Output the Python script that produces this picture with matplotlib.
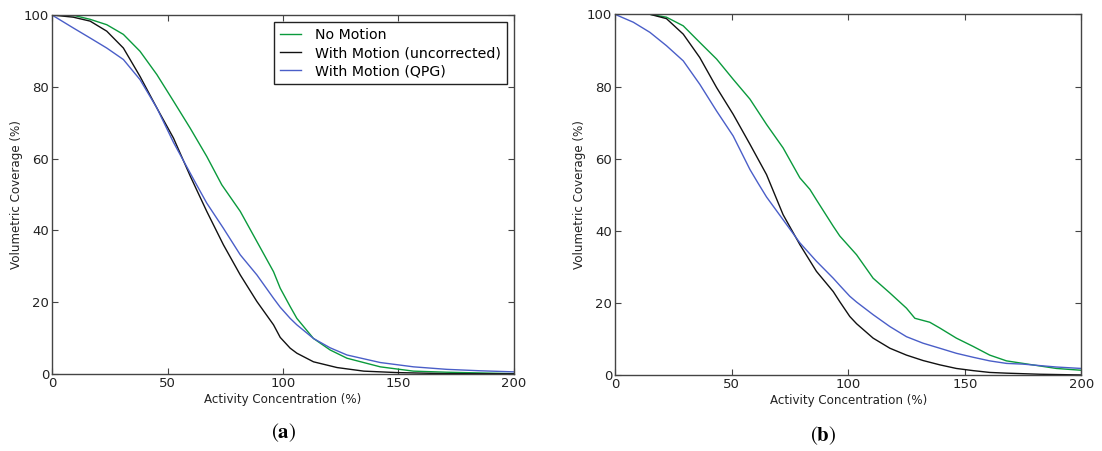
import matplotlib
matplotlib.use("Agg")
import matplotlib.pyplot as plt

# (a)
a_green_x = [0, 10, 16.5, 23.7, 30.9, 38.1, 45.4, 52.6, 59.8, 67, 73.5, 81.5, 88.7, 95.9, 98.8,
             103.1, 106, 113.2, 120.4, 127.7, 142.1, 156.5, 170.9, 200]
a_green_y = [100, 99.8, 98.8, 97.3, 94.6, 89.9, 83.4, 76, 68.5, 60.6, 52.7, 45.3, 36.9, 28.5, 23.9,
             18.8, 15.5, 9.9, 6.7, 4.4, 2.0, 0.8, 0.5, 0.1]

a_black_x = [0, 9.2, 16.5, 23.7, 30.9, 38.1, 45.4, 52.6, 59.8, 62.7, 67, 74.2, 81.5, 88.7, 95.9,
             98.8, 103.1, 106, 113.2, 123.4, 135, 149.4, 170.9, 200]
a_black_y = [100, 99.4, 98.3, 95.5, 90.8, 82.9, 74.1, 65.7, 55.2, 51.2, 45.3, 36, 27.6, 20.2, 13.7,
             10.2, 7.2, 5.8, 3.4, 1.8, 0.8, 0.4, 0.1, 0.05]

a_blue_x = [0, 9.2, 16.5, 23.7, 30.9, 38.1, 45.4, 52.6, 59.8, 62, 67, 74.2, 81.5, 88.7, 95.9,
            98.8, 103.1, 106, 113.2, 120.4, 127.7, 142.1, 156.5, 170.9, 185.4, 200]
a_blue_y = [100, 96.4, 93.6, 90.8, 87.6, 82, 74.1, 64.5, 56.0, 53.4, 47.6, 40.6, 33.2, 27.6, 21.1,
            18.6, 15.5, 13.7, 9.9, 7.3, 5.3, 3.2, 2.0, 1.3, 0.9, 0.6]

# (b)
b_green_x = [0, 15, 22.1, 29.3, 36.4, 43.6, 50.7, 57.9, 65, 72.1, 79.3, 83.6, 86.4, 93.6, 96.4,
             103.6, 110.7, 117.9, 125, 128.6, 135, 139.3, 146.4, 153.6, 160.7, 167.9, 175,
             182.1, 189.3, 200]
b_green_y = [100, 100, 99.2, 96.8, 92.2, 87.6, 82, 76.5, 69.5, 63, 54.7, 51.5, 48.6, 41.3, 38.6,
             33.4, 26.9, 22.8, 18.6, 15.8, 14.7, 13.1, 10.3, 8, 5.6, 4.0, 3.3,
             2.6, 1.9, 1.4]

b_black_x = [0, 15, 22.1, 29.3, 36.4, 43.6, 50.7, 57.9, 65, 72.1, 79.3, 86.4, 93.6, 96.4, 100.7,
             103.6, 110.7, 117.9, 125, 132.1, 139.3, 146.4, 153.6, 160.7, 167.9, 182.1, 200]
b_black_y = [100, 100, 98.8, 94.5, 88, 79.7, 72.3, 64, 55.6, 44.5, 36.2, 28.8, 23.2, 20.4, 16.3,
             14.3, 10.3, 7.5, 5.6, 4.1, 2.9, 1.9, 1.3, 0.8, 0.6, 0.3, 0.1]

b_blue_x = [0, 7.9, 15, 22.1, 29.3, 36.4, 43.6, 50.7, 57.9, 61.4, 65, 72.1, 79.3, 86.4, 93.6,
            96.4, 100.7, 103.6, 110.7, 117.9, 125, 132.1, 139.3, 146.4, 153.6, 160.7, 167.9, 175,
            182.1, 189.3, 200]
b_blue_y = [100, 97.8, 95, 91.3, 87.1, 80.6, 73.2, 66.3, 57.0, 53.2, 49.4, 43.1, 36.7, 31.6, 26.9,
            24.9, 21.9, 20.3, 16.8, 13.5, 10.7, 8.9, 7.5, 6.1, 5, 4, 3.3, 3.1,
            2.7, 2.3, 1.9]

labels = ["No Motion", "With Motion (uncorrected)", "With Motion (QPG)"]
colors = ["#0a9a3c", "#111111", "#4a5ec8"]

plt.rcParams["font.family"] = "DejaVu Sans"
plt.rcParams["mathtext.fontset"] = "stix"

fig = plt.figure(figsize=(11.02, 4.51), dpi=100)
ax_a = fig.add_axes([0.0472, 0.1707, 0.4192, 0.796])
ax_b = fig.add_axes([0.558, 0.1678, 0.4233, 0.8005])

panels = [
    (ax_a, [(a_green_x, a_green_y), (a_black_x, a_black_y), (a_blue_x, a_blue_y)]),
    (ax_b, [(b_green_x, b_green_y), (b_black_x, b_black_y), (b_blue_x, b_blue_y)]),
]

for ax, series in panels:
    for (x, y), lab, c in zip(series, labels, colors):
        ax.plot(x, y, color=c, linewidth=1.0, label=lab)
    ax.set_xlim(0, 200)
    ax.set_ylim(0, 100)
    ax.set_xticks([0, 50, 100, 150, 200])
    ax.set_yticks([0, 20, 40, 60, 80, 100])
    ax.tick_params(direction="in", top=True, right=True, length=4.5, labelsize=9.5, pad=2,
                   color="#444444", labelcolor="#222222")
    for s in ax.spines.values():
        s.set_color("#444444")
        s.set_linewidth(1.0)
    ax.set_xlabel("Activity Concentration (%)", fontsize=8.6, labelpad=2, color="#222222")
    ax.set_ylabel("Volumetric Coverage (%)", fontsize=8.6, labelpad=0.5, color="#222222")

leg = ax_a.legend(loc="upper right", fontsize=10.2, fancybox=False, framealpha=1,
                  edgecolor="#222222", handlelength=1.5, handletextpad=1.0,
                  borderaxespad=0.5, labelspacing=0.3)
leg.get_frame().set_linewidth(1.0)

fig.text(0.257, 0.04, r"$(\mathbf{a})$", fontsize=15, ha="center", va="center")
fig.text(0.747, 0.035, r"$(\mathbf{b})$", fontsize=15, ha="center", va="center")

fig.savefig("out.png", dpi=100)
